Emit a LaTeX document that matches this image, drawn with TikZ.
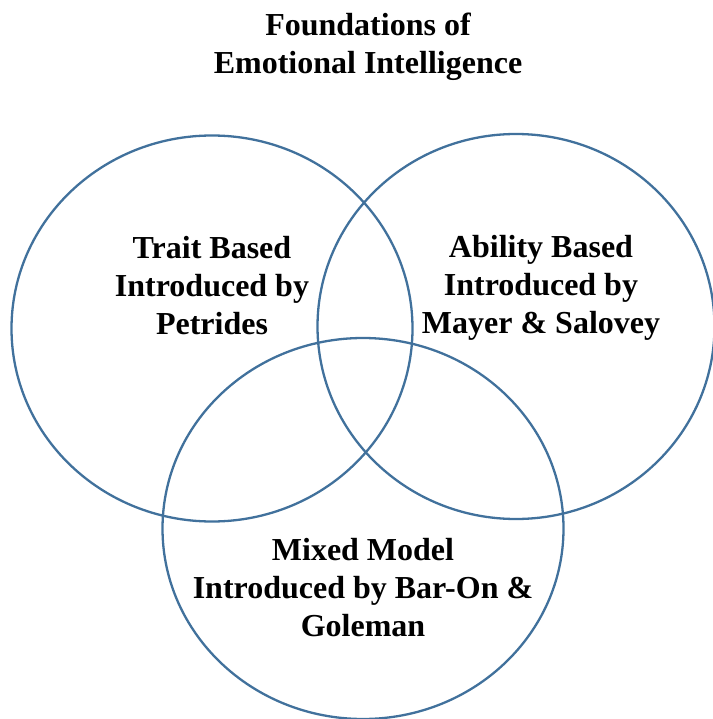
\documentclass[tikz,border=0pt]{standalone}
\usepackage{fontspec}
\setmainfont{Liberation Serif}
\usetikzlibrary{shapes.geometric}
\definecolor{ringblue}{HTML}{41719C}
\begin{document}
\begin{tikzpicture}[x=1pt,y=-1pt,
  ring/.style={ellipse, draw=ringblue, line width=2.3pt, inner sep=0pt, outer sep=0pt},
  label/.style={align=center, inner sep=0pt, font=\fontsize{32}{38}\selectfont\bfseries}]
\useasboundingbox (0,0) rectangle (712,719);
\node[ring, minimum width=401pt, minimum height=386pt] (left) at (212,328.5) {};
\node[ring, minimum width=397pt, minimum height=385pt] (right) at (516,326.5) {};
\node[ring, minimum width=401pt, minimum height=381pt] (bottom) at (363,528.5) {};
\node[label] (title) at (368,47) {Foundations of\\Emotional Intelligence};
\node[label] (trait) at (212,286) {Trait Based\\Introduced by\\Petrides};
\node[label] (ability) at (541,287.5) {Ability Based\\Introduced by\\Mayer \& Salovey};
\node[label] (mixed) at (363,588) {Mixed Model\\Introduced by Bar-On \&\\Goleman};
\end{tikzpicture}
\end{document}
